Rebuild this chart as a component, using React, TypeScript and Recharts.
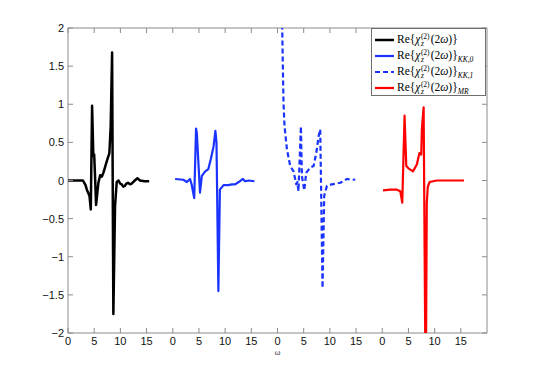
import React from 'react';
import { LineChart, Line, XAxis, YAxis, ReferenceArea, Legend } from 'recharts';

// ---- data ----
const segmentOffsets = [0, 20, 40, 60];
const xTicks = [0, 5, 10, 15, 20, 25, 30, 35, 40, 45, 50, 55, 60, 65, 70, 75];
const yTicks = [-2, -1.5, -1, -0.5, 0, 0.5, 1, 1.5, 2];

const chiX = [0, 2.85, 3.35, 3.6, 4.1, 4.35, 4.6, 4.84, 5.0, 5.15, 5.36, 5.8, 6.15, 6.45, 6.75, 7.05, 7.35, 7.9, 8.15, 8.42, 8.66, 8.98, 9.3, 9.65, 9.95, 10.25, 10.55, 10.85, 11.15, 11.45, 11.85, 12.15, 12.75, 13.25, 13.75, 14.65, 15.5];
const chiY = [0, 0, -0.06, -0.12, -0.2, -0.38, 0.98, 0.32, 0.34, 0.08, -0.32, -0.03, 0.07, 0.05, 0.1, 0.17, 0.24, 0.36, 0.71, 1.68, -1.75, -0.34, -0.02, 0, -0.04, -0.05, -0.08, -0.07, -0.04, -0.03, -0.05, -0.04, 0, 0.03, 0, -0.01, -0.01];

const kk0X = [0.45, 2.0, 2.7, 3.3, 3.6, 4.1, 4.45, 4.6, 5.2, 5.55, 6.2, 6.8, 7.26, 7.8, 8.14, 8.35, 8.71, 9.0, 9.7, 10.6, 11.3, 11.9, 12.6, 13.4, 13.8, 14.5, 15.6];
const kk0Y = [0.02, 0.01, -0.02, 0.02, -0.05, -0.23, 0.68, 0.62, -0.16, 0.06, 0.12, 0.15, 0.28, 0.45, 0.65, 0.5, -1.45, -0.12, -0.06, -0.06, -0.05, -0.05, -0.02, 0.02, -0.01, 0, -0.01];

const kk1X = [0.75, 0.9, 1.03, 1.15, 1.34, 1.8, 2.43, 3.06, 3.58, 3.8, 4.0, 4.47, 4.66, 5.1, 5.48, 6.25, 6.9, 7.4, 7.85, 8.16, 8.6, 8.92, 9.44, 10.4, 12.0, 13.26, 14.85];
const kk1Y = [3.2, 2.0, 1.45, 1.02, 0.71, 0.41, 0.19, 0.12, -0.05, -0.02, -0.14, 0.71, 0.06, -0.13, 0.1, 0.17, 0.19, 0.36, 0.58, 0.67, -1.41, -0.2, -0.07, -0.05, -0.03, 0.02, 0.01];

const mrX = [0.15, 1.5, 2.8, 3.44, 3.82, 4.26, 4.59, 5.0, 5.86, 6.6, 7.1, 7.44, 7.58, 7.9, 8.3, 8.5, 8.7, 9.05, 10.4, 15.6];
const mrY = [-0.13, -0.12, -0.12, -0.14, -0.29, 0.85, 0.19, 0.16, 0.12, 0.21, 0.36, 0.34, 0.69, 0.96, -3.0, -0.3, -0.08, -0.02, 0, 0];

const legendSubs = ['', 'KK,0', 'KK,1', 'MR'];

// ---- layout ----
const W = 538;
const H = 374;
const PLOT_LEFT = 68;
const PLOT_RIGHT = 487;
const PLOT_TOP = 28;
const PLOT_BOTTOM = 333;
const Y_AXIS_W = 40;
const X_AXIS_H = 30;
const AXIS_COLOR = '#8c8c8c';
const TICK_FONT = '"Liberation Sans", Arial, sans-serif';
const SERIF = '"Liberation Serif", "Times New Roman", serif';

const toPoints = (xs: number[], ys: number[], off: number) =>
  xs.map((x, i) => ({ x: x + off, y: ys[i] }));

const series = [
  { key: 'chi', data: toPoints(chiX, chiY, segmentOffsets[0]), color: '#000000', width: 2.5, dash: undefined },
  { key: 'kk0', data: toPoints(kk0X, kk0Y, segmentOffsets[1]), color: '#1a33ff', width: 2.2, dash: undefined },
  { key: 'kk1', data: toPoints(kk1X, kk1Y, segmentOffsets[2]), color: '#1a33ff', width: 2.2, dash: '5 3' },
  { key: 'mr', data: toPoints(mrX, mrY, segmentOffsets[3]), color: '#ff0000', width: 2.2, dash: undefined },
];

const fmtY = (v: number) => (v < 0 ? '\u2212' + String(Math.abs(v)) : String(v));

const XTick = (props: any) => {
  const { x, y, payload } = props;
  return (
    <g>
      <line x1={x} x2={x} y1={y} y2={y - 5} stroke={AXIS_COLOR} />
      <line x1={x} x2={x} y1={PLOT_TOP} y2={PLOT_TOP + 5} stroke={AXIS_COLOR} />
      <text x={x} y={y + 12} textAnchor="middle" fontSize={11} fontFamily={TICK_FONT} fill="#111">
        {payload.value % 20}
      </text>
    </g>
  );
};

const YTick = (props: any) => {
  const { x, y, payload } = props;
  return (
    <g>
      <line x1={x} x2={x + 5} y1={y} y2={y} stroke={AXIS_COLOR} />
      <line x1={PLOT_RIGHT} x2={PLOT_RIGHT - 5} y1={y} y2={y} stroke={AXIS_COLOR} />
      <text x={x - 4} y={y + 4} textAnchor="end" fontSize={11} fontFamily={TICK_FONT} fill="#111">
        {fmtY(payload.value)}
      </text>
    </g>
  );
};

const LegendText = ({ sub }: { sub: string }) => (
  <span style={{ fontFamily: SERIF, fontSize: 11.5, whiteSpace: 'nowrap', color: '#000' }}>
    Re{'{'}<i>χ</i>
    <span style={{ display: 'inline-block', verticalAlign: '-3px', fontSize: 7.5, lineHeight: '7px', margin: '0 1px 0 0.5px' }}>
      <span style={{ display: 'block' }}>(2)</span>
      <i style={{ display: 'block' }}>z</i>
    </span>
    (2<i>ω</i>){'}'}
    {sub ? (
      <span style={{ fontSize: 7.5, verticalAlign: '-3px' }}>
        <i>{sub}</i>
      </span>
    ) : null}
  </span>
);

const LegendBox = () => (
  <div
    style={{
      width: 115,
      height: 68,
      border: '1px solid #6f6f6f',
      background: '#fff',
      boxSizing: 'border-box',
      paddingTop: 3,
    }}
  >
    {series.map((s, i) => (
      <div key={s.key} style={{ height: 16, display: 'flex', alignItems: 'center' }}>
        <svg width={25} height={16} style={{ flex: 'none' }}>
          <line
            x1={3}
            x2={22}
            y1={8}
            y2={8}
            stroke={s.color}
            strokeWidth={s.width}
            strokeDasharray={s.dash}
          />
        </svg>
        <LegendText sub={legendSubs[i]} />
      </div>
    ))}
  </div>
);

export default function App() {
  return (
    <div style={{ position: 'absolute', left: 0, top: 0, width: W, height: H, background: '#fff' }}>
      <LineChart
        width={W}
        height={H}
        margin={{
          top: PLOT_TOP,
          right: W - PLOT_RIGHT,
          bottom: H - PLOT_BOTTOM - X_AXIS_H,
          left: PLOT_LEFT - Y_AXIS_W,
        }}
      >
        <XAxis
          type="number"
          dataKey="x"
          domain={[0, 80]}
          allowDataOverflow
          ticks={xTicks}
          interval={0}
          tick={<XTick />}
          tickLine={false}
          tickSize={0}
          tickMargin={0}
          axisLine={false}
          height={X_AXIS_H}
          label={{
            value: 'ω',
            position: 'insideBottom',
            offset: 8,
            style: { fontFamily: SERIF, fontStyle: 'italic', fontSize: 8, fill: '#333' },
          }}
        />
        <YAxis
          type="number"
          domain={[-2, 2]}
          allowDataOverflow
          ticks={yTicks}
          interval={0}
          tick={<YTick />}
          tickLine={false}
          tickSize={0}
          tickMargin={0}
          axisLine={false}
          width={Y_AXIS_W}
        />
        <ReferenceArea x1={0} x2={80} y1={-2} y2={2} fill="none" stroke={AXIS_COLOR} strokeWidth={1} />
        {series.map((s) => (
          <Line
            key={s.key}
            data={s.data}
            dataKey="y"
            type="linear"
            stroke={s.color}
            strokeWidth={s.width}
            strokeDasharray={s.dash}
            dot={false}
            activeDot={false}
            strokeLinejoin="round"
            isAnimationActive={false}
          />
        ))}
        <Legend
          layout="vertical"
          align="center"
          verticalAlign="middle"
          content={() => <LegendBox />}
          wrapperStyle={{ left: 371, top: 28, width: 115, height: 68 }}
        />
      </LineChart>
    </div>
  );
}
